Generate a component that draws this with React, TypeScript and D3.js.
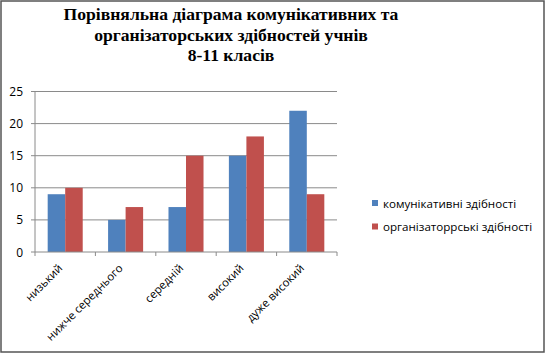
import React from "react";
import * as d3 from "d3";

const categories = ["низький", "нижче середнього", "середній", "високий", "дуже високий"];
const seriesNames = ["комунікативні здібності", "організаторрські здібності"];
const communicative = [9, 5, 7, 15, 22];
const organizational = [10, 7, 15, 18, 9];
const yTicks = [0, 5, 10, 15, 20, 25];
const titleLines = ["Порівняльна діаграма комунікативних та", "організаторських здібностей учнів", "8-11 класів"];

const colors = ["#4F81BD", "#C0504D"];

export default function App() {
  const W = 546, H = 355;
  const left = 35, right = 337, top = 91.5, bottom = 252;
  const x = d3.scaleBand<string>().domain(categories).range([left, right]).paddingInner(0.42).paddingOuter(0.21);
  const xb = d3.scaleBand<string>().domain(categories).range([left, right]);
  const y = d3.scaleLinear().domain([0, 25]).range([bottom, top]);
  const series = [communicative, organizational];
  const bw = x.bandwidth() / 2;
  const font = "Open Sans";
  return (
    <svg width={W} height={H} style={{ position: "absolute", left: 0, top: 0 }}>
      <rect x={0} y={0} width={W} height={H} fill="#fff" />
      <rect x={1} y={1} width={543} height={351} fill="none" stroke="#555" strokeWidth={1.5} />
      {titleLines.map((t, i) => (
        <text key={i} x={231} y={20 + i * 20.5} textAnchor="middle" fontFamily="'Liberation Serif', 'DejaVu Serif', serif" fontWeight="bold" fontSize={17.6} fill="#000">{t}</text>
      ))}
      {yTicks.map((t) => (
        <g key={t}>
          {t > 0 && <line x1={left} x2={right} y1={y(t)} y2={y(t)} stroke="#8a8a8a" strokeWidth={1} />}
          <line x1={left - 4} x2={left} y1={y(t)} y2={y(t)} stroke="#8a8a8a" />
          <text x={left - 12} y={y(t) + 4.5} textAnchor="end" fontFamily={font} fontSize={12} fill="#000">{t}</text>
        </g>
      ))}
      <line x1={left} x2={left} y1={top} y2={bottom} stroke="#8a8a8a" />
      {series.map((vals, si) =>
        vals.map((v, ci) => (
          <rect key={si + "-" + ci} x={(x(categories[ci]) as number) + si * bw} y={y(v)} width={bw} height={y(0) - y(v)} fill={colors[si]} />
        ))
      )}
      <line x1={left} x2={right} y1={bottom} y2={bottom} stroke="#8a8a8a" />
      {[...categories.map((c) => xb(c) as number), right].map((tx, i) => (
        <line key={i} x1={tx} x2={tx} y1={bottom} y2={bottom + 4} stroke="#8a8a8a" />
      ))}
      {categories.map((c) => {
        const cx = (xb(c) as number) + xb.bandwidth() / 2;
        return (
          <text key={c} transform={`translate(${cx - 2},${bottom + 17}) rotate(-45)`} textAnchor="end" fontFamily={font} fontSize={11.3} fill="#000">{c}</text>
        );
      })}
      {seriesNames.map((n, i) => (
        <g key={n}>
          <rect x={372} y={200 + i * 23.5} width={6} height={6} fill={colors[i]} />
          <text x={383} y={207.5 + i * 23.5} fontFamily={font} fontSize={11.6} fill="#000">{n}</text>
        </g>
      ))}
    </svg>
  );
}
